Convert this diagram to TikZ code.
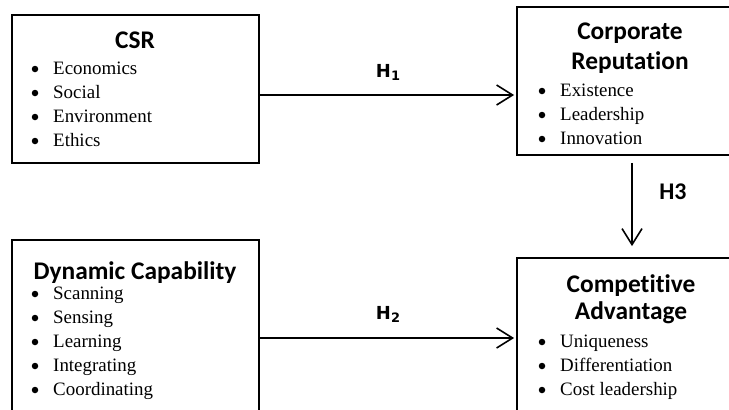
\documentclass[tikz,border=0pt]{standalone}
\usepackage{fontspec}
\setmainfont{Liberation Serif}
\newfontfamily\titlefont[Ligatures=NoCommon]{Carlito}
\newfontfamily\hfont{DejaVu Sans}
\usetikzlibrary{arrows.meta}
\tikzset{
  box/.style={draw, line width=1.8bp, minimum width=#1, inner sep=0pt},
  ttl/.style={font=\titlefont\bfseries\fontsize{25.5}{26}\selectfont, inner sep=0pt, anchor=base},
  item/.style={font=\fontsize{19}{19}\selectfont, inner sep=0pt, anchor=base west},
  bul/.style={fill, circle, inner sep=0pt, minimum size=6.5bp},
  hyp/.style={line width=1.6bp, -{Straight Barb[length=16bp, width=20bp, line width=1.6bp]}},
  hlab/.style={font=\hfont\bfseries\fontsize{18}{18}\selectfont, inner sep=0pt, anchor=base},
  hlabb/.style={font=\titlefont\bfseries\fontsize{24}{24}\selectfont, inner sep=0pt, anchor=base}
}
\newcommand{\bitem}[4]{%
  \node[bul] at (#1,#3-5) {};
  \node[item] (#4) at (#1+18,#3) {#2};
}
\begin{document}
\begin{tikzpicture}[x=1bp, y=-1bp]
\useasboundingbox (0,0) rectangle (729,409);
\clip (0,0) rectangle (729,409);
% boxes
\node[box=247bp, minimum height=148bp] (CSR) at (135.5,89) {};
\node[box=228bp, minimum height=148bp] (CR) at (631,81) {};
\node[box=247bp, minimum height=190bp] (DC) at (135.5,335) {};
\node[box=228bp, minimum height=180bp] (CA) at (631,348) {};
% titles
\node[ttl] (tCSR) at (135,48) {CSR};
\node[ttl] (tCR1) at (630,39) {Corporate};
\node[ttl] (tCR2) at (630,69) {Reputation};
\node[ttl] (tDC) at (135,279) {Dynamic Capability};
\node[ttl] (tCA1) at (631,292) {Competitive};
\node[ttl] (tCA2) at (631,319) {Advantage};
% items
\bitem{35}{Economics}{74}{i1}
\bitem{35}{Social}{98}{i2}
\bitem{35}{Environment}{122}{i3}
\bitem{35}{Ethics}{146}{i4}
\bitem{35}{Scanning}{299}{d1}
\bitem{35}{Sensing}{323}{d2}
\bitem{35}{Learning}{347}{d3}
\bitem{35}{Integrating}{371}{d4}
\bitem{35}{Coordinating}{395}{d5}
\bitem{542}{Existence}{96}{r1}
\bitem{542}{Leadership}{120}{r2}
\bitem{542}{Innovation}{144}{r3}
\bitem{542}{Uniqueness}{347}{c1}
\bitem{542}{Differentiation}{371}{c2}
\bitem{542}{Cost leadership}{395}{c3}
% arrows
\draw[hyp, shorten >=2bp] (CSR.east |- 0,95) -- (CR.west |- 0,95);
\draw[hyp, shorten >=2bp] (DC.east |- 0,338) -- (CA.west |- 0,338);
\draw[hyp, shorten <=7bp, shorten >=11bp] (CR.south -| 632,0) -- (CA.north -| 632,0);
% labels
\node[hlab] (h1) at (388,77) {H\raisebox{-0.35ex}{\fontsize{13}{13}\selectfont 1}};
\node[hlab] (h2) at (388,319) {H\raisebox{-0.35ex}{\fontsize{13}{13}\selectfont 2}};
\node[hlabb] (h3) at (673,199) {H3};
\end{tikzpicture}
\end{document}
